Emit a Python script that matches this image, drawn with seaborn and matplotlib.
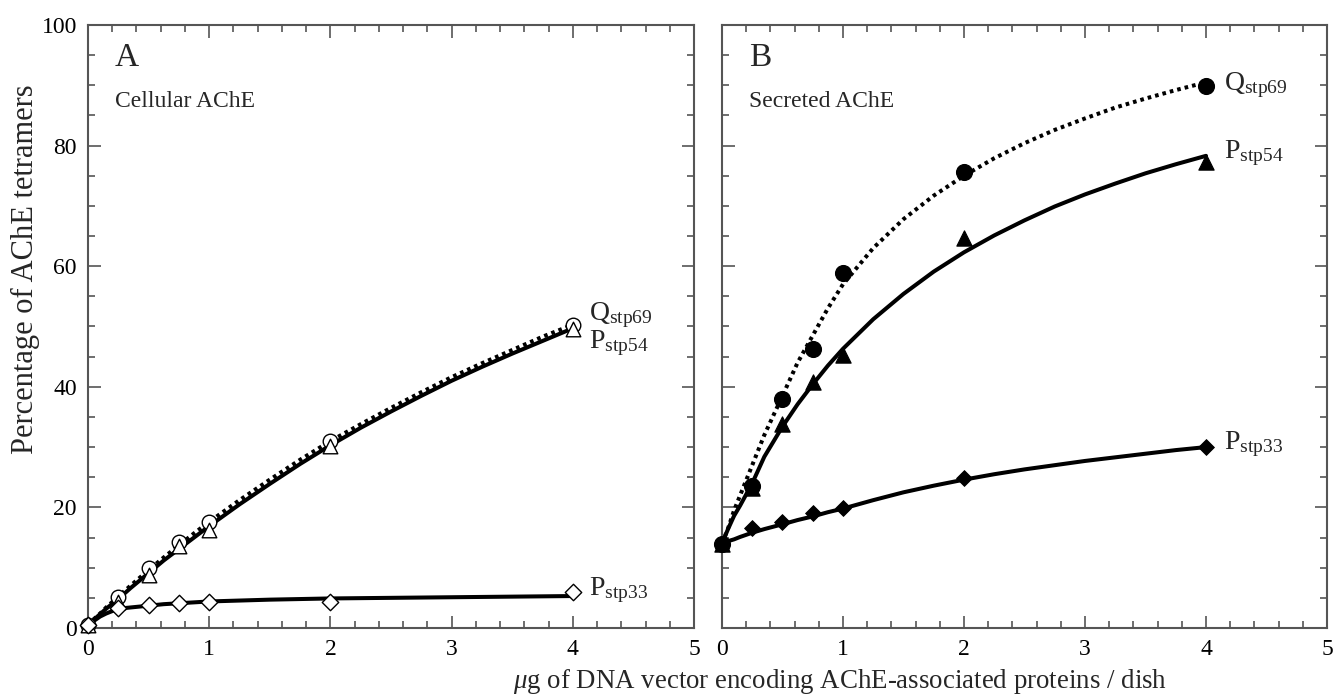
import matplotlib
matplotlib.use('Agg')
import matplotlib.pyplot as plt
import seaborn as sns
from matplotlib.ticker import MultipleLocator

# Measured points (x = ug DNA / dish)
dna = [0, 0.25, 0.5, 0.75, 1, 2, 4]

# Panel A - cellular AChE
cell_q69 = [0.5, 5.1, 9.9, 14.3, 17.6, 31.0, 50.3]
cell_p54 = [0.5, 4.3, 8.8, 13.6, 16.3, 30.2, 49.6]
cell_p33 = [0.5, 3.3, 3.8, 4.1, 4.3, 4.3, 6.0]

# Panel B - secreted AChE
sec_q69 = [14.0, 23.6, 38.0, 46.2, 58.8, 75.6, 89.9]
sec_p54 = [14.0, 23.2, 33.8, 40.8, 45.3, 64.7, 77.3]
sec_p33 = [14.0, 16.5, 17.6, 19.0, 19.9, 24.9, 30.0]

# Fitted curves
fit_x = [0, 0.05, 0.1, 0.15, 0.25, 0.35, 0.5, 0.625, 0.75, 0.875, 1, 1.25,
         1.5, 1.75, 2, 2.25, 2.5, 2.75, 3, 3.25, 3.5, 3.75, 4]
fit_cell_q69 = [0.5, 1.5, 2.4, 3.4, 5.2, 7.0, 9.6, 11.7, 13.7, 15.7, 17.6, 21.2,
                24.6, 27.9, 31.0, 33.8, 36.5, 39.1, 41.6, 43.9, 46.1, 48.3, 50.3]
fit_cell_p54 = [0.5, 1.4, 2.3, 3.2, 4.8, 6.6, 9.1, 11.2, 13.1, 15.0, 16.9, 20.5,
                23.9, 27.2, 30.3, 33.2, 35.9, 38.5, 41.0, 43.3, 45.5, 47.6, 49.7]
fit_cell_p33 = [0.5, 1.2, 1.9, 2.4, 3.2, 3.4, 3.7, 3.95, 4.1, 4.25, 4.4, 4.55,
                4.7, 4.8, 4.9, 4.95, 5.0, 5.05, 5.1, 5.15, 5.2, 5.25, 5.3]
fit_sec_q69 = [14.0, 16.5, 19.5, 22.0, 27.0, 32.0, 38.5, 44.0, 48.5, 53.0, 57.0, 63.0,
               67.8, 71.7, 75.0, 77.9, 80.4, 82.6, 84.5, 86.3, 87.8, 89.2, 90.5]
fit_sec_p54 = [14.0, 16.4, 18.6, 20.3, 24.0, 28.4, 33.4, 37.1, 40.4, 43.5, 46.3, 51.2,
               55.4, 59.1, 62.3, 65.1, 67.6, 69.9, 71.9, 73.7, 75.4, 76.9, 78.3]
fit_sec_p33 = [14.0, 14.4, 14.7, 15.1, 15.8, 16.4, 17.2, 17.9, 18.5, 19.2, 19.8, 21.2,
               22.5, 23.6, 24.6, 25.5, 26.3, 27.0, 27.7, 28.3, 28.9, 29.5, 30.0]

sns.set_theme(style='ticks')
plt.rcParams['font.family'] = ['Liberation Serif', 'DejaVu Serif']
plt.rcParams['mathtext.fontset'] = 'custom'
plt.rcParams['mathtext.rm'] = 'Liberation Serif'
plt.rcParams['mathtext.it'] = 'Liberation Serif:italic'

fig = plt.figure(figsize=(13.35, 6.98), dpi=100)
ax_a = fig.add_axes([0.0659, 0.1003, 0.4540, 0.8639])
ax_b = fig.add_axes([0.5408, 0.1003, 0.4532, 0.8639])

lw = 2.9
dots = (0, (0.9, 1.0))


def style_axis(ax, show_y):
    ax.set_xlim(0, 5)
    ax.set_ylim(0, 100)
    ax.xaxis.set_major_locator(MultipleLocator(1))
    ax.xaxis.set_minor_locator(MultipleLocator(0.2))
    ax.yaxis.set_major_locator(MultipleLocator(20))
    ax.yaxis.set_minor_locator(MultipleLocator(5))
    ax.tick_params(which='both', direction='in', top=True, right=True,
                   color='#555555', labelsize=17, labelcolor='black', pad=8)
    ax.tick_params(which='major', length=9, width=1.2)
    ax.tick_params(which='minor', length=5, width=1.2)
    for s in ax.spines.values():
        s.set_visible(True)
        s.set_color('#555555')
        s.set_linewidth(1.5)
    if not show_y:
        ax.set_yticklabels([])
    ax.set_xlabel('')
    ax.set_ylabel('')


# Panel A
sns.lineplot(x=fit_x, y=fit_cell_q69, ax=ax_a, color='black', lw=lw, linestyle=dots)
sns.lineplot(x=fit_x, y=fit_cell_p54, ax=ax_a, color='black', lw=lw)
sns.lineplot(x=fit_x, y=fit_cell_p33, ax=ax_a, color='black', lw=lw)
sns.scatterplot(x=dna, y=cell_q69, ax=ax_a, marker='o', s=110, facecolor='white',
                edgecolor='black', linewidth=1.0, zorder=3, clip_on=False)
sns.scatterplot(x=dna, y=cell_p54, ax=ax_a, marker='^', s=110, facecolor='white',
                edgecolor='black', linewidth=1.0, zorder=3, clip_on=False)
sns.scatterplot(x=dna, y=cell_p33, ax=ax_a, marker='D', s=70, facecolor='white',
                edgecolor='black', linewidth=1.0, zorder=4, clip_on=False)
style_axis(ax_a, True)

# Panel B
sns.lineplot(x=fit_x, y=fit_sec_q69, ax=ax_b, color='black', lw=lw, linestyle=dots)
sns.lineplot(x=fit_x, y=fit_sec_p54, ax=ax_b, color='black', lw=lw)
sns.lineplot(x=fit_x, y=fit_sec_p33, ax=ax_b, color='black', lw=lw)
sns.scatterplot(x=dna, y=sec_q69, ax=ax_b, marker='o', s=130, color='black',
                edgecolor='black', zorder=3, clip_on=False)
sns.scatterplot(x=dna, y=sec_p54, ax=ax_b, marker='^', s=120, color='black',
                edgecolor='black', zorder=3, clip_on=False)
sns.scatterplot(x=dna, y=sec_p33, ax=ax_b, marker='D', s=65, color='black',
                edgecolor='black', zorder=3, clip_on=False)
style_axis(ax_b, False)

# Panel letters and titles
ax_a.text(0.22, 94.5, 'A', fontsize=24, va='center')
ax_a.text(0.22, 87.3, 'Cellular AChE', fontsize=17, va='center')
ax_b.text(0.22, 94.5, 'B', fontsize=24, va='center')
ax_b.text(0.22, 87.3, 'Secreted AChE', fontsize=17, va='center')

# Series labels
lab_fs = 20
ax_a.text(4.13, 51.8, r'Q$_{\mathrm{stp69}}$', fontsize=lab_fs, va='center')
ax_a.text(4.13, 47.3, r'P$_{\mathrm{stp54}}$', fontsize=lab_fs, va='center')
ax_a.text(4.13, 6.3, r'P$_{\mathrm{stp33}}$', fontsize=lab_fs, va='center')
ax_b.text(4.15, 90.0, r'Q$_{\mathrm{stp69}}$', fontsize=lab_fs, va='center')
ax_b.text(4.15, 78.8, r'P$_{\mathrm{stp54}}$', fontsize=lab_fs, va='center')
ax_b.text(4.15, 30.5, r'P$_{\mathrm{stp33}}$', fontsize=lab_fs, va='center')

fig.text(25 / 1335, 1 - 269 / 698, 'Percentage of AChE tetramers', fontsize=22,
         rotation=90, ha='center', va='center')
fig.text(513 / 1335, 1 - 682 / 698, r'$\mathit{\mu}$g of DNA vector encoding AChE-associated proteins / dish',
         fontsize=19.4, ha='left', va='center')

fig.savefig('out.png', dpi=100)
